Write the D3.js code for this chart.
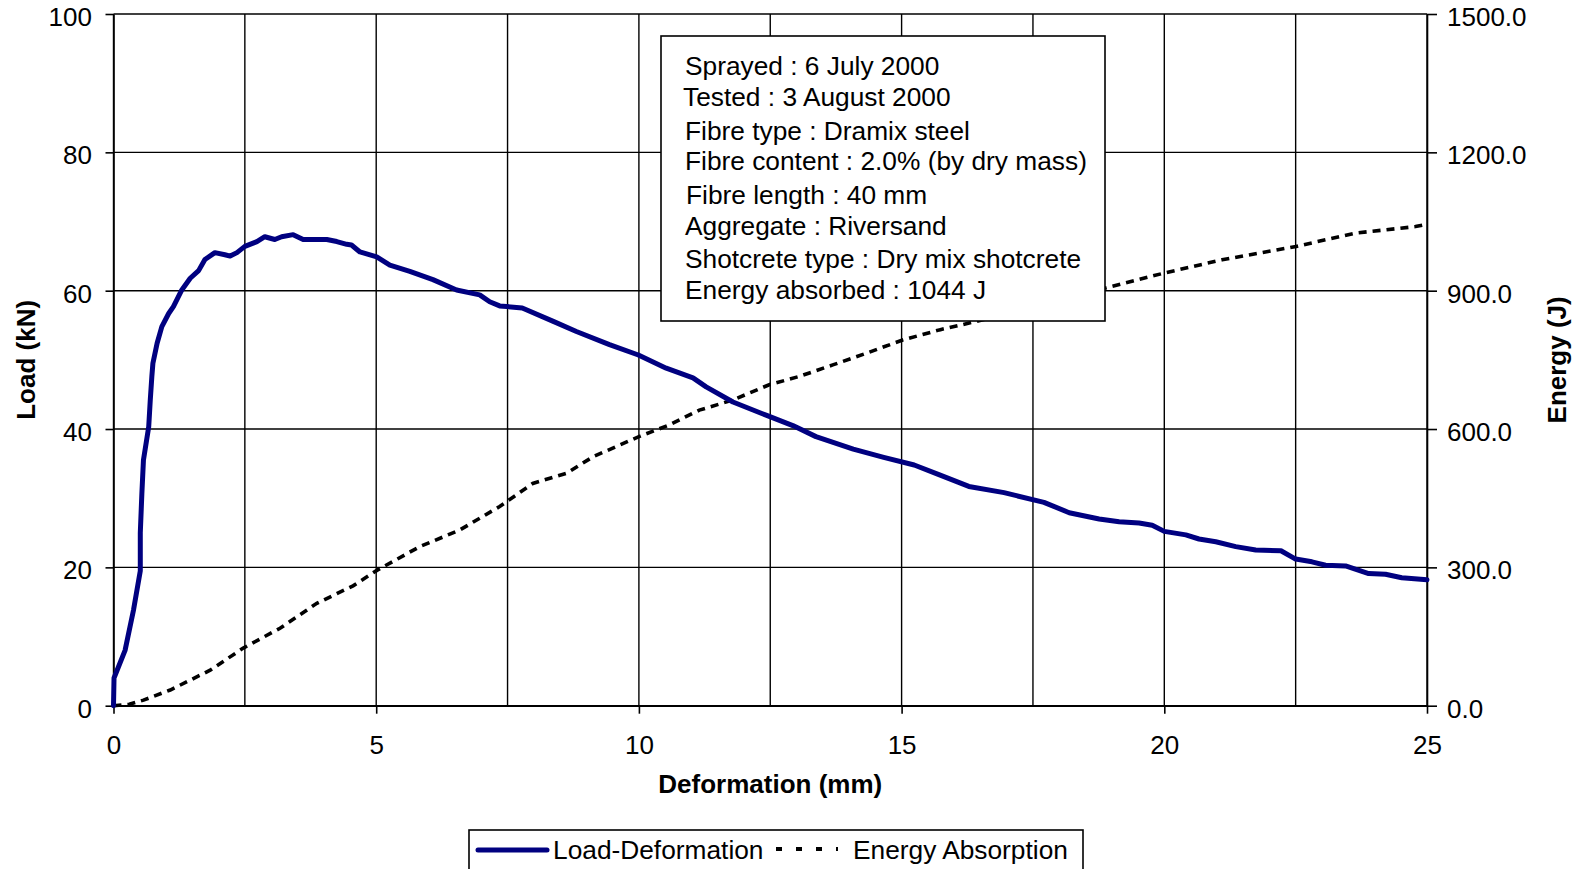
<!DOCTYPE html>
<html>
<head>
<meta charset="utf-8">
<script src="https://cdn.jsdelivr.net/npm/d3@7"></script>
<style>
  html, body { margin: 0; padding: 0; background: #fff; }
  svg { display: block; font-family: "Liberation Sans", Arial, sans-serif; }
</style>
</head>
<body>
<svg id="chart" width="1576" height="869"></svg>
<script>
// ---- data ----
const loadDef = [0, 0.01, 0.22, 0.38, 0.51, 0.51, 0.54, 0.57, 0.67, 0.70, 0.73, 0.75, 0.83, 0.92, 1.05, 1.14, 1.30, 1.46, 1.62, 1.74, 1.93, 2.12, 2.22, 2.35, 2.50, 2.73, 2.88, 3.07, 3.20, 3.42, 3.61, 4.06, 4.25, 4.44, 4.53, 4.69, 5.01, 5.26, 5.64, 6.08, 6.53, 6.97, 7.16, 7.35, 7.78, 8.36, 8.81, 9.44, 9.99, 10.52, 11.03, 11.28, 11.79, 12.42, 12.93, 13.37, 14.08, 14.66, 15.24, 15.71, 16.28, 16.95, 17.71, 18.19, 18.76, 19.14, 19.52, 19.77, 20.0, 20.41, 20.66, 20.98, 21.36, 21.74, 22.22, 22.5, 22.81, 23.07, 23.45, 23.89, 24.21, 24.52, 25.0];
const loadKN = [0, 4, 8.0, 13.8, 19.5, 25, 30.7, 35.5, 40.3, 44.2, 47.6, 49.5, 52.4, 54.8, 56.7, 57.7, 60.1, 61.8, 62.9, 64.5, 65.5, 65.2, 65.0, 65.5, 66.4, 67.1, 67.8, 67.4, 67.8, 68.1, 67.4, 67.4, 67.1, 66.7, 66.6, 65.6, 64.9, 63.7, 62.8, 61.6, 60.1, 59.4, 58.4, 57.8, 57.5, 55.6, 54.1, 52.2, 50.7, 48.8, 47.4, 46.1, 43.9, 42.0, 40.5, 38.9, 37.1, 35.9, 34.8, 33.4, 31.7, 30.8, 29.4, 27.9, 27.0, 26.6, 26.4, 26.1, 25.2, 24.7, 24.1, 23.7, 23.0, 22.5, 22.4, 21.2, 20.8, 20.3, 20.2, 19.1, 19.0, 18.5, 18.2];
const energyDef = [0, 0.3, 0.57, 1.08, 1.84, 2.47, 3.17, 3.87, 4.56, 5.02, 5.83, 6.59, 7.35, 7.98, 8.62, 9.13, 9.99, 10.58, 11.15, 11.79, 12.48, 13.05, 13.69, 14.32, 15.02, 15.72, 16.41, 18.85, 19.99, 21.1, 22.51, 23.64, 24.78, 25.0];
const energyJ = [0, 3, 12, 34, 77, 125, 168, 222, 260, 294, 345, 381, 432, 482, 504, 540, 583, 609, 641, 663, 696, 714, 739, 764, 793, 815, 833, 905, 938, 967, 996, 1025, 1039, 1044];
const xTicks = [0, 5, 10, 15, 20, 25];
const xGrid = [0, 2.5, 5, 7.5, 10, 12.5, 15, 17.5, 20, 22.5, 25];
const loadTicks = [0, 20, 40, 60, 80, 100];
const energyTicks = [0, 300, 600, 900, 1200, 1500];
const infoLines = [
  "Sprayed : 6 July 2000",
  "Tested : 3 August 2000",
  "Fibre type : Dramix steel",
  "Fibre content : 2.0% (by dry mass)",
  "Fibre length : 40 mm",
  "Aggregate : Riversand",
  "Shotcrete type : Dry mix shotcrete",
  "Energy absorbed : 1044 J"
];
const seriesNames = ["Load-Deformation", "Energy Absorption"];

// ---- layout ----
const L = 113.5, R = 1427, T = 14, B = 705.7;
const svg = d3.select("#chart");
const x = d3.scaleLinear().domain([0, 25]).range([L, R]);
const yL = d3.scaleLinear().domain([0, 100]).range([B, T]);
const yE = d3.scaleLinear().domain([0, 1500]).range([B, T]);

// grid
const grid = svg.append("g").attr("stroke", "#000").attr("stroke-width", 1.4);
grid.selectAll("line.v").data(xGrid).join("line")
  .attr("x1", d => x(d)).attr("x2", d => x(d)).attr("y1", T).attr("y2", B);
grid.selectAll("line.h").data(loadTicks).join("line")
  .attr("x1", L).attr("x2", R).attr("y1", d => yL(d)).attr("y2", d => yL(d));

// axes
function styleAxis(g) {
  g.select(".domain").attr("stroke", "#000").attr("stroke-width", 1.6);
  g.selectAll(".tick line").attr("stroke", "#000").attr("stroke-width", 1.6);
  g.selectAll(".tick text").attr("fill", "#000").style("font-size", "26px")
    .style("font-family", "'Liberation Sans', Arial, sans-serif");
}
const gx = svg.append("g").attr("transform", `translate(0,${B})`)
  .call(d3.axisBottom(x).tickValues(xTicks).tickSize(8).tickSizeOuter(0).tickFormat(d3.format("d")));
styleAxis(gx);
gx.selectAll(".tick text").attr("y", 48).attr("dy", 0);

const gl = svg.append("g").attr("transform", `translate(${L},0)`)
  .call(d3.axisLeft(yL).tickValues(loadTicks).tickSize(8).tickSizeOuter(0).tickFormat(d3.format("d")));
styleAxis(gl);
gl.selectAll(".tick text").attr("x", -21.5).attr("dy", 11.5);

const gr = svg.append("g").attr("transform", `translate(${R},0)`)
  .call(d3.axisRight(yE).tickValues(energyTicks).tickSize(10).tickSizeOuter(0).tickFormat(d3.format(".1f")));
styleAxis(gr);
gr.selectAll(".tick text").attr("x", 20).attr("dy", 11.5);

// axis titles
svg.append("text").attr("x", (L + R) / 2).attr("y", 793)
  .attr("text-anchor", "middle").style("font-size", "26px").style("font-weight", "bold")
  .text("Deformation (mm)");
svg.append("text").attr("transform", `translate(35,${(T + B) / 2}) rotate(-90)`)
  .attr("text-anchor", "middle").style("font-size", "26px").style("font-weight", "bold")
  .text("Load (kN)");
svg.append("text").attr("transform", `translate(1566,${(T + B) / 2}) rotate(-90)`)
  .attr("text-anchor", "middle").style("font-size", "26px").style("font-weight", "bold")
  .text("Energy (J)");

// series
const loadData = loadDef.map((d, i) => [d, loadKN[i]]);
const energyData = energyDef.map((d, i) => [d, energyJ[i]]);
svg.append("path").datum(energyData)
  .attr("fill", "none").attr("stroke", "#000").attr("stroke-width", 3.6)
  .attr("stroke-dasharray", "8,6")
  .attr("d", d3.line().x(d => x(d[0])).y(d => yE(d[1])));
svg.append("path").datum(loadData)
  .attr("fill", "none").attr("stroke", "#000080").attr("stroke-width", 5)
  .attr("stroke-linejoin", "round").attr("stroke-linecap", "round")
  .attr("d", d3.line().x(d => x(d[0])).y(d => yL(d[1])));

// info box
svg.append("rect").attr("x", 661).attr("y", 36).attr("width", 444).attr("height", 285)
  .attr("fill", "#fff").attr("stroke", "#000").attr("stroke-width", 1.6);
const infoBase = [74.5, 106, 139.5, 169.5, 203.5, 235, 267.5, 299];
const infoX = [685, 683, 685, 685, 686, 685, 685, 685];
svg.selectAll("text.info").data(infoLines).join("text").attr("class", "info")
  .attr("x", (d, i) => infoX[i]).attr("y", (d, i) => infoBase[i])
  .style("font-size", "26.3px").attr("fill", "#000").text(d => d);

// legend
svg.append("rect").attr("x", 469).attr("y", 830).attr("width", 614).attr("height", 50)
  .attr("fill", "#fff").attr("stroke", "#000").attr("stroke-width", 1.6);
svg.append("line").attr("x1", 478).attr("x2", 547).attr("y1", 850).attr("y2", 850)
  .attr("stroke", "#000080").attr("stroke-width", 5).attr("stroke-linecap", "round");
svg.append("text").attr("x", 553).attr("y", 859).style("font-size", "26.3px").text(seriesNames[0]);
svg.append("line").attr("x1", 776).attr("x2", 838).attr("y1", 849).attr("y2", 849)
  .attr("stroke", "#000").attr("stroke-width", 4).attr("stroke-dasharray", "6,14");
svg.append("text").attr("x", 853).attr("y", 859).style("font-size", "26.3px").text(seriesNames[1]);
</script>
</body>
</html>
